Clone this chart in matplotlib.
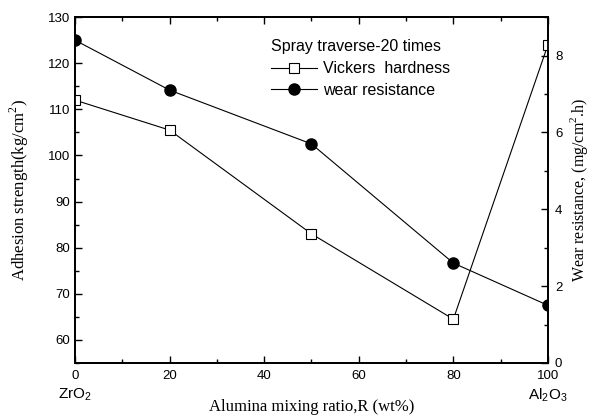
import matplotlib
matplotlib.use("Agg")
import matplotlib.pyplot as plt
from matplotlib.ticker import MultipleLocator
from matplotlib.lines import Line2D

# Alumina mixing ratio (wt%)
ratio = [0, 20, 50, 80, 100]
# Vickers hardness series, plotted against the left axis
vickers = [112, 105.5, 83, 64.5, 124]
# Wear resistance series (mg/cm^2.h), plotted against the right axis
wear = [8.4, 7.1, 5.7, 2.6, 1.5]

left_ticks = [60, 70, 80, 90, 100, 110, 120, 130]
right_ticks = [0, 2, 4, 6, 8]
x_ticks = [0, 20, 40, 60, 80, 100]

sans = "Liberation Sans"
serif = "Liberation Serif"

fig = plt.figure(figsize=(5.93, 4.17), dpi=100)
ax = fig.add_axes([0.1265, 0.1295, 0.7975, 0.8295])
ax2 = ax.twinx()

ax.plot(ratio, vickers, color="black", lw=0.8, marker="s", ms=7,
        mfc="white", mec="black", mew=0.8, zorder=3)
ax2.plot(ratio, wear, color="black", lw=0.8, marker="o", ms=8,
         mfc="black", mec="black", zorder=3)

ax.set_xlim(0, 100)
ax.set_ylim(55, 130)
ax2.set_ylim(0, 9)

ax.set_xticks(x_ticks)
ax.xaxis.set_minor_locator(MultipleLocator(10))
ax.set_yticks(left_ticks)
ax.yaxis.set_minor_locator(MultipleLocator(5))
ax2.set_yticks(right_ticks)
ax2.yaxis.set_minor_locator(MultipleLocator(1))

for a in (ax, ax2):
    for s in a.spines.values():
        s.set_linewidth(1.3)
    a.tick_params(which="both", direction="in", width=1.0, labelsize=9.5)
    a.tick_params(which="major", length=5)
    a.tick_params(which="minor", length=3)
    for lab in a.get_xticklabels() + a.get_yticklabels():
        lab.set_fontfamily(sans)
ax.tick_params(which="both", top=True, right=False)
ax2.tick_params(which="both", left=False, right=True)
ax2.tick_params(axis="y", pad=5)
ax.tick_params(axis="x", pad=5)

ax.set_ylabel(r"Adhesion strength(kg/cm$^\mathregular{2}$)", fontfamily=serif,
              fontsize=12, labelpad=12)
ax2.set_ylabel(r"Wear resistance, (mg/cm$^\mathregular{2}$.h)",
               fontfamily=serif, fontsize=11.5, labelpad=4)
ax.set_xlabel("Alumina mixing ratio,R (wt%)", fontfamily=serif, fontsize=12,
              labelpad=12)

# End-member compositions under the axis ends
ax.text(0, -0.068, r"ZrO$_\mathregular{2}$", transform=ax.transAxes,
        ha="center", va="top", fontfamily=sans, fontsize=11)
ax.text(1, -0.068, r"Al$_\mathregular{2}$O$_\mathregular{3}$",
        transform=ax.transAxes, ha="center", va="top", fontfamily=sans,
        fontsize=11)

handles = [
    Line2D([], [], color="black", lw=0.8, marker="s", ms=7, mfc="white",
           mec="black", mew=0.8),
    Line2D([], [], color="black", lw=0.8, marker="o", ms=8, mfc="black"),
]
leg = ax.legend(handles, ["Vickers  hardness", "wear resistance"],
                title="Spray traverse-20 times", loc="upper left",
                bbox_to_anchor=(0.39, 0.968), frameon=False,
                prop={"family": sans, "size": 11.5},
                title_fontproperties={"family": sans, "size": 11.5},
                handlelength=2.9, handletextpad=0.4, labelspacing=0.4,
                borderpad=0.2)
leg._legend_box.align = "left"
leg._legend_box.sep = 5

fig.savefig("out.png", dpi=100)
